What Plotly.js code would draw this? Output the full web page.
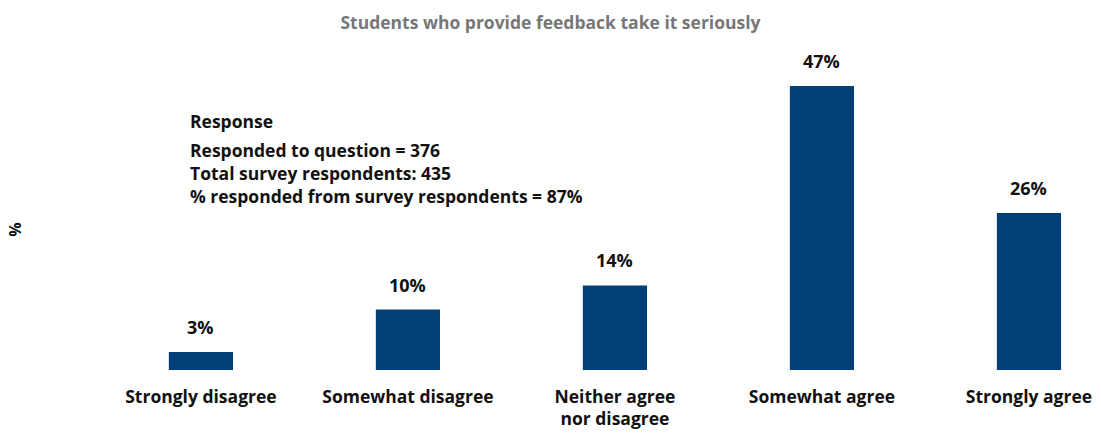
<!DOCTYPE html>
<html><head><meta charset="utf-8">
<script src="https://cdn.plot.ly/plotly-3.0.1.min.js"></script>
<style>body{margin:0;padding:0;background:#fff}#chart{width:1101px;height:433px}</style>
</head><body><div id="chart"></div>
<script>
const categories = ["Strongly disagree", "Somewhat disagree", "Neither agree<br>nor disagree", "Somewhat agree", "Strongly agree"];
const values = [3, 10, 14, 47, 26];
const labels = ["3%", "10%", "14%", "47%", "26%"];
const titleText = "Students who provide feedback take it seriously";
const responseNotes = ["Responded to question = 376", "Total survey respondents: 435", "% responded from survey respondents = 87%"];

const FONT = "'Open Sans', Lato, sans-serif";
const trace = {
  type: "bar", x: categories, y: values,
  marker: {color: "#023f78"},
  hoverinfo: "none"
};
const ann = categories.map((c, i) => ({
  x: c, y: values[i], xref: "x", yref: "y", text: "<b>" + labels[i] + "</b>",
  showarrow: false, yanchor: "bottom", yshift: 11,
  font: {family: FONT, size: 18, color: "#111"}
}));
ann.push({xref: "paper", yref: "paper", x: 0.0906, y: 0.824, xanchor: "left", yanchor: "middle",
  text: "<b>Response</b>", showarrow: false, align: "left", font: {family: FONT, size: 17.5, color: "#111"}});
ann.push({xref: "paper", yref: "paper", x: 0.0906, y: 0.653, xanchor: "left", yanchor: "middle",
  text: responseNotes.map(s => "<b>" + s + "</b>").join("<br>"), showarrow: false, align: "left",
  font: {family: FONT, size: 17.5, color: "#111"}});
ann.push({xref: "paper", yref: "paper", x: -0.0817, y: 0.464, xanchor: "center", yanchor: "middle",
  text: "<b>%</b>", textangle: -90, showarrow: false, font: {family: FONT, size: 16, color: "#111"}});

const layout = {
  width: 1101, height: 433,
  margin: {l: 97, r: 0, t: 68, b: 63},
  paper_bgcolor: "#fff", plot_bgcolor: "#fff",
  title: {text: "<b>" + titleText + "</b>", x: 0.5, xref: "container", xanchor: "center", y: 0.947, yref: "container", yanchor: "middle",
    font: {family: FONT, size: 17.5, color: "#777"}},
  bargap: 0.69,
  showlegend: false,
  xaxis: {type: "category", range: [-0.502, 4.348], showgrid: false, zeroline: false, showline: false, ticks: "",
    ticklabelstandoff: 14,
    tickfont: {family: FONT, size: 17.5, color: "#111", weight: "bold"}, fixedrange: true},
  yaxis: {range: [0, 50], showgrid: false, zeroline: false, showline: false, showticklabels: false, ticks: "", fixedrange: true},
  annotations: ann
};
Plotly.newPlot("chart", [trace], layout, {staticPlot: true, displayModeBar: false});
</script></body></html>
